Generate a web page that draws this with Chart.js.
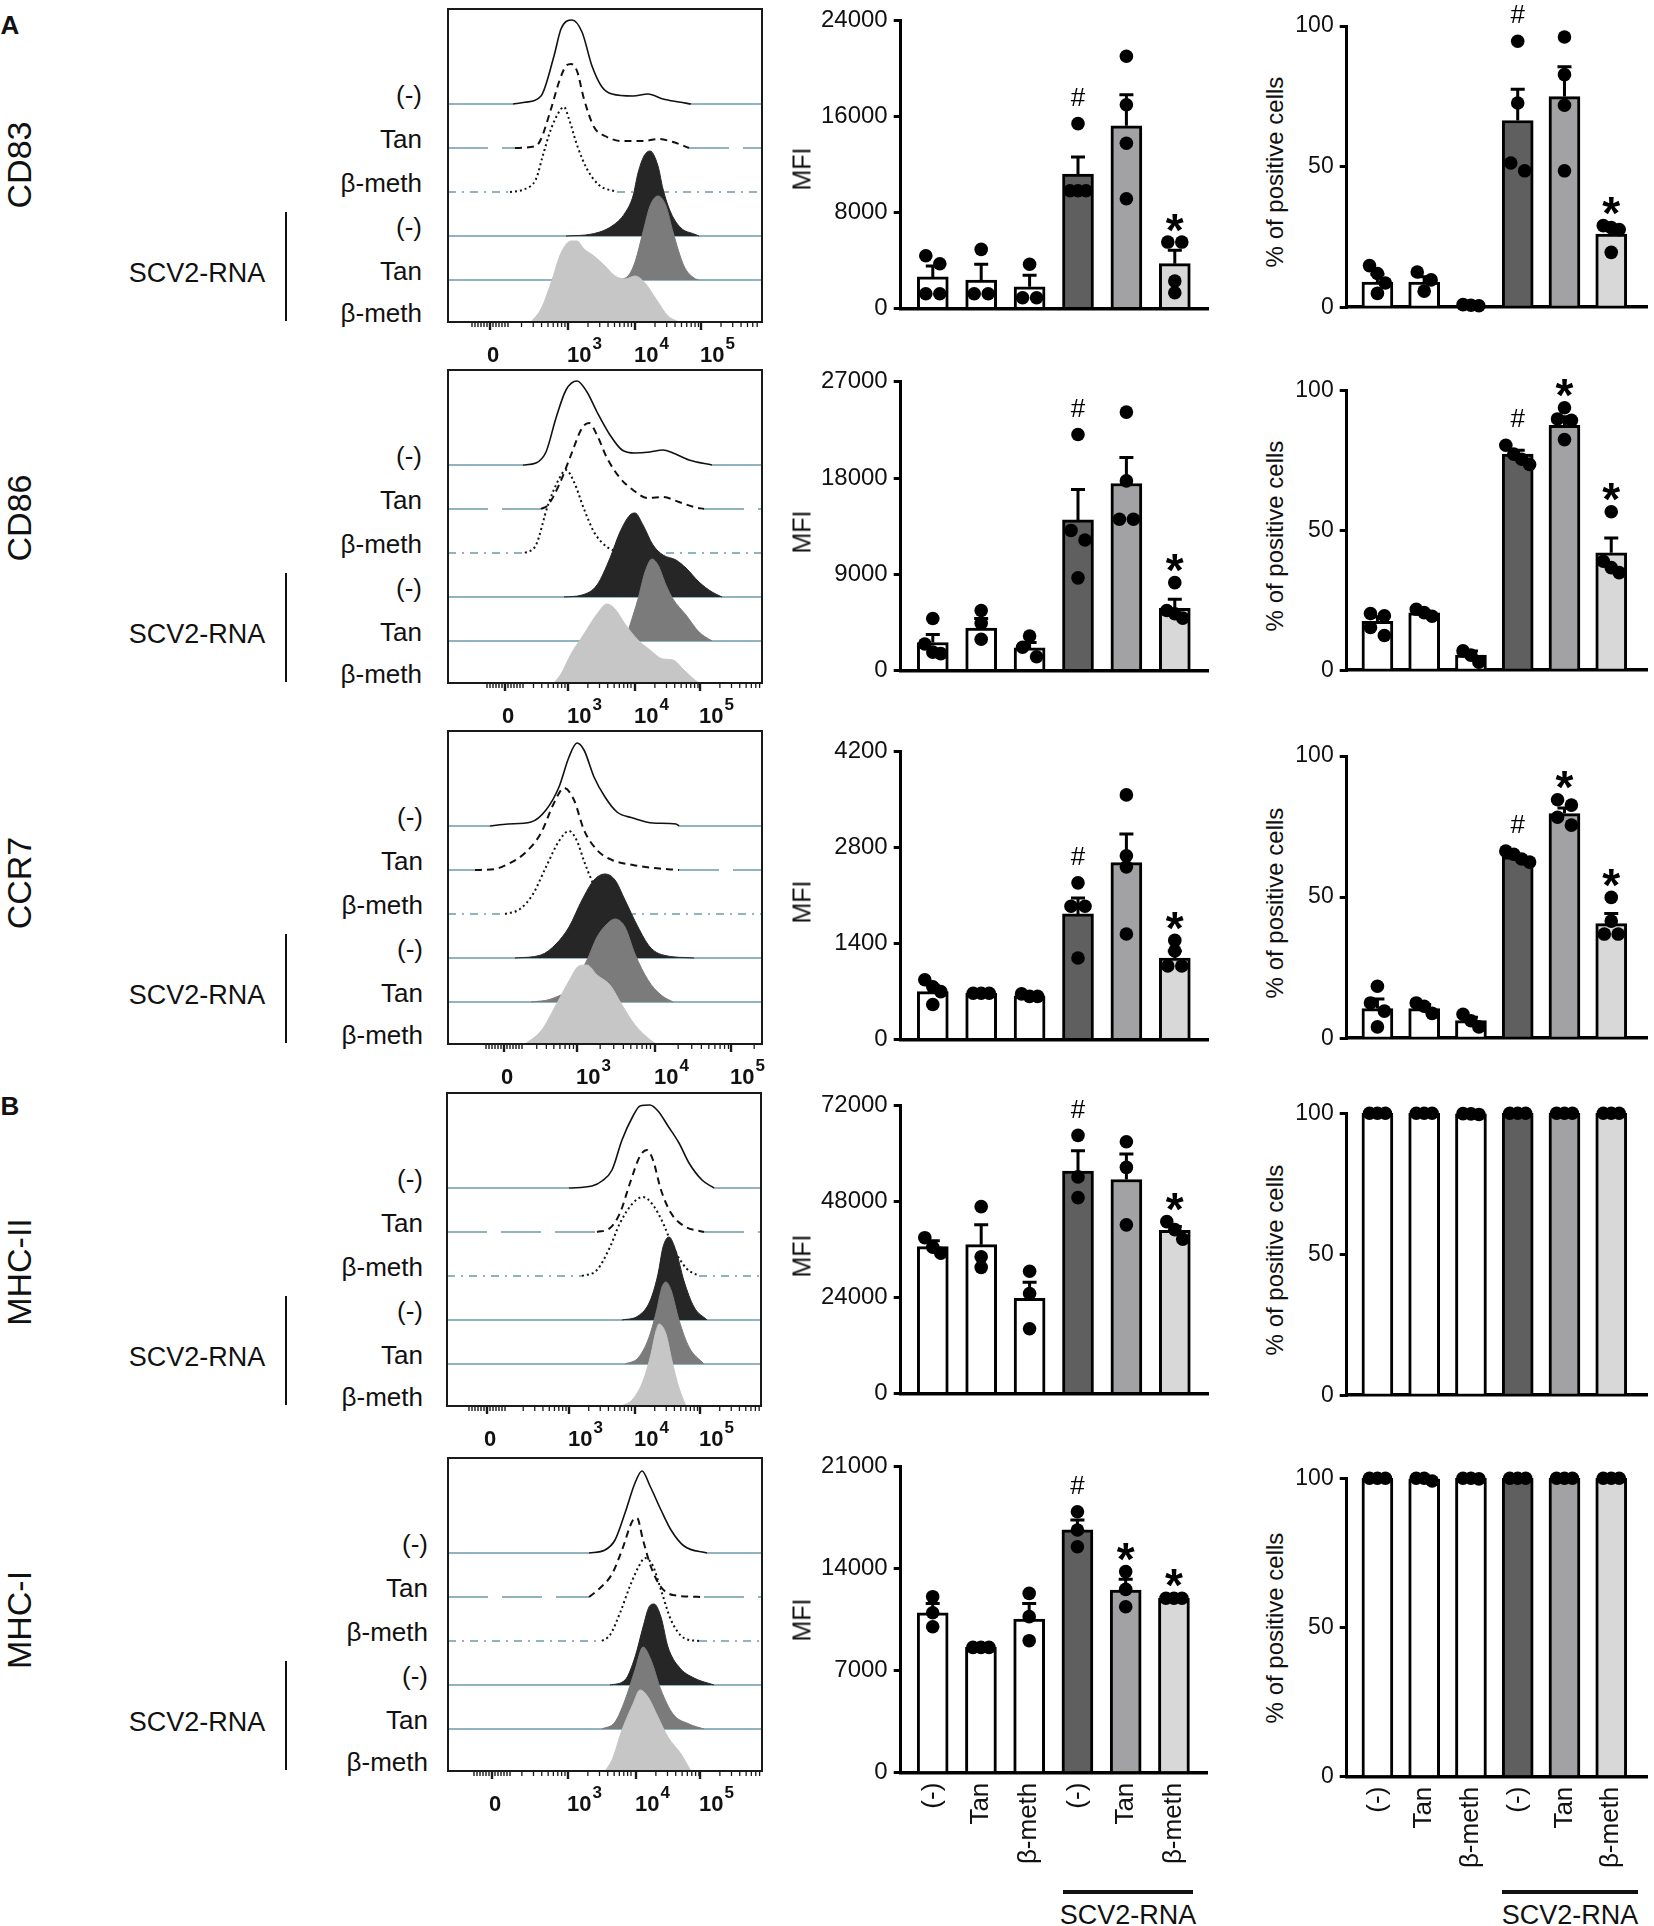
<!DOCTYPE html>
<html><head><meta charset="utf-8">
<script src="https://cdn.jsdelivr.net/npm/chart.js@4.4.1/dist/chart.umd.min.js"></script>
<style>
html,body{margin:0;padding:0;background:#fff;}
#fig{position:relative;width:1654px;height:1926px;overflow:hidden;font-family:'Liberation Sans',Arial,Helvetica,sans-serif;color:#111;}
.abs{position:absolute;white-space:nowrap;line-height:1;}
.ln{position:absolute;background:#111;}
canvas{position:absolute;}
</style></head><body><div id="fig"></div>
<script>
// ---------------- DATA ----------------
const categories = ['(-)','Tan','β-meth','(-)','Tan','β-meth'];
const groupLabel = 'SCV2-RNA';
const rowMarkers = ['CD83','CD86','CCR7','MHC-II','MHC-I'];
const traceLabels = ['(-)','Tan','β-meth','(-)','Tan','β-meth'];
const histTickLabels = ['0','10³','10⁴','10⁵'];

// histogram channel positions of 0, 10^3, 10^4, 10^5
const cd83Ticks = [42,120,187,253];
const cd86Ticks = [57,120,187,252];
const ccr7Ticks = [56,129,207,283];
const mhc2Ticks = [40,122,188,253];
const mhc1Ticks = [44,120,188,252];

// histogram traces: [channel, count]
const cd83Neg = [[65,0],[77,1.7],[93,8],[106,48],[113,75],[124,84],[134,72],[144,38],[154,17],[164,10],[185,8],[200,10],[215,5],[231,2],[243,0]];
const cd83Tan = [[67,0],[88,2],[93,9],[103,39],[111,66],[118,82],[123,84],[129,77],[136,49],[146,21],[157,12],[174,7],[195,7],[210,9],[225,6],[241,0]];
const cd83Beta = [[62,0],[77,3],[88,13],[95,37],[103,63],[113,83],[116,85],[121,73],[129,47],[139,23],[151,7],[169,0]];
const cd83RnaNeg = [[118,0],[144,2],[164,10],[177,23],[185,40],[190,63],[196,80],[202,85],[210,70],[215,47],[223,23],[233,8],[246,2],[251,0]];
const cd83RnaTan = [[169,0],[180,4],[187,18],[195,48],[202,74],[210,84],[218,74],[225,48],[236,14],[246,2],[251,0]];
const cd83RnaBeta = [[83,0],[93,13],[103,39],[113,69],[123,81],[129,81],[136,73],[146,66],[157,56],[167,46],[177,43],[187,46],[197,39],[208,23],[220,6],[231,0]];

const cd86Neg = [[75,0],[88,2],[98,13],[108,47],[118,75],[129,84],[139,73],[149,53],[162,30],[174,15],[187,12],[202,13],[215,15],[225,12],[241,5],[264,0]];
const cd86Tan = [[93,0],[100,4],[111,24],[123,54],[134,81],[141,86],[149,74],[159,51],[172,31],[185,19],[200,11],[215,12],[231,7],[246,2],[256,0]];
const cd86Beta = [[77,0],[88,8],[100,48],[111,74],[118,83],[126,71],[136,44],[146,21],[159,6],[174,0]];
const cd86RnaNeg = [[116,0],[134,2],[149,12],[162,39],[172,65],[182,82],[187,84],[195,72],[205,52],[215,42],[228,37],[238,29],[251,15],[264,5],[274,0]];
const cd86RnaTan = [[177,0],[182,16],[190,42],[197,69],[204,82],[210,76],[218,56],[225,42],[238,26],[251,9],[264,0]];
const cd86RnaBeta = [[106,0],[113,9],[123,29],[136,49],[149,69],[159,79],[167,74],[177,59],[190,43],[202,33],[215,24],[225,23],[236,13],[248,2],[251,0]];

const ccr7Neg = [[42,0],[60,2],[83,4],[98,16],[111,39],[121,69],[129,83],[136,76],[146,49],[157,29],[169,14],[185,8],[205,3],[228,2],[231,0]];
const ccr7Tan = [[27,0],[47,1],[62,7],[77,17],[93,37],[106,67],[116,82],[126,70],[136,40],[149,20],[164,10],[185,5],[205,2],[231,0]];
const ccr7Beta = [[57,0],[72,5],[85,20],[98,47],[111,73],[121,83],[129,73],[136,53],[144,33],[154,13],[169,2],[180,0]];
const ccr7RnaNeg = [[67,0],[93,3],[108,14],[121,31],[134,58],[146,78],[157,84],[167,78],[177,58],[190,31],[202,11],[215,3],[246,0]];
const ccr7RnaTan = [[83,0],[103,3],[123,15],[139,42],[149,65],[159,78],[167,83],[177,75],[187,48],[200,22],[213,7],[225,0]];
const ccr7RnaBeta = [[77,0],[93,13],[108,39],[121,63],[131,78],[139,79],[149,69],[162,59],[174,39],[187,19],[200,6],[208,0]];

const mhc2Neg = [[122,0],[145,2],[155,7],[165,18],[175,48],[186,72],[193,82],[203,83],[211,77],[221,62],[232,45],[242,25],[255,8],[267,0]];
const mhc2Tan = [[150,0],[163,4],[173,19],[183,49],[193,76],[200,82],[206,72],[214,42],[224,19],[237,6],[257,0]];
const mhc2Beta = [[135,0],[150,6],[163,29],[173,53],[186,73],[196,79],[206,71],[216,53],[226,29],[239,8],[252,0]];
const mhc2RnaNeg = [[175,0],[191,4],[203,19],[211,46],[216,73],[222,83],[229,69],[237,39],[247,13],[260,0]];
const mhc2RnaTan = [[178,0],[191,6],[201,24],[209,51],[215,77],[219,82],[224,74],[232,44],[242,17],[257,0]];
const mhc2RnaBeta = [[175,0],[186,7],[196,25],[204,52],[209,75],[212,82],[219,72],[225,45],[232,18],[239,0]];

const mhc1Neg = [[141,0],[157,3],[167,13],[177,40],[187,70],[194,82],[202,67],[213,43],[223,23],[236,7],[259,0]];
const mhc1Tan = [[141,0],[151,8],[164,23],[174,47],[185,77],[189,79],[195,57],[203,30],[213,10],[225,2],[256,0]];
const mhc1Beta = [[154,0],[162,6],[172,28],[182,55],[191,75],[197,83],[205,75],[213,51],[223,21],[236,3],[251,0]];
const mhc1RnaNeg = [[162,0],[177,5],[187,28],[195,58],[201,78],[206,81],[213,68],[220,38],[231,18],[246,7],[266,0]];
const mhc1RnaTan = [[154,0],[167,7],[177,29],[187,59],[195,82],[203,69],[213,39],[225,15],[241,5],[256,0]];
const mhc1RnaBeta = [[157,0],[164,11],[174,41],[185,67],[192,81],[200,74],[210,54],[220,34],[233,17],[243,0]];

// MFI / % bar data
const cd83MfiMax = 24000;
const cd83MfiMean = [2640,2370,1820,11200,15220,3740];
const cd83MfiSem = [900,1320,950,1420,2580,1110];
const cd83MfiPts = [[4400,3740,1240,1240],[4930,1240,1240],[3690,900,900],[15400,9810,9810,9810],[21020,16980,13770,9150],[5540,5540,2290,1320]];
const cd83MfiMarks = ['','','','#','','*'];
const cd83PctMean = [8.9,8.9,0.6,66.4,74.9,26.0];
const cd83PctSem = [2.8,1.9,0.3,11.1,10.6,2.5];
const cd83PctPts = [[14.8,12.0,8.6,4.9],[12.5,9.7,5.7],[0.9,0.7,0.5],[94.6,72.6,51.3,48.5],[96.1,82.7,71.8,48.5],[29,28.3,27.6,19.5]];
const cd83PctMarks = ['','','','#','','*'];

const cd86MfiMax = 27000;
const cd86MfiMean = [2630,3980,2120,14080,17490,5830];
const cd86MfiSem = [750,890,510,2840,2420,840];
const cd86MfiPts = [[4870,2480,1730,1590],[5620,4430,2930],[3230,2180,1290],[22070,13100,12200,8670],[24160,17730,14140,14140],[8220,5620,5320,4900]];
const cd86MfiMarks = ['','','','#','','*'];
const cd86PctMean = [17.5,20.5,5.4,77.3,87.6,42.0];
const cd86PctSem = [1.6,0.6,1.5,1.4,3.1,5.3];
const cd86PctPts = [[20.3,19.5,15.3,12.4],[21.8,20.6,19.3],[6.9,5.4,2.9],[80.5,77.3,75.5,73.6],[93.9,89.9,89.4,82.5],[56.7,39.0,36.7,34.9]];
const cd86PctMarks = ['','','','#','*','*'];

const ccr7MfiMax = 4200;
const ccr7MfiMean = [700,677,640,1834,2581,1190];
const ccr7MfiSem = [93,10,20,233,420,103];
const ccr7MfiPts = [[873,770,700,513],[677,677,677],[667,630,630],[2287,1946,1946,1190],[3570,2683,2520,1540],[1447,1293,1073,1073]];
const ccr7MfiMarks = ['','','','#','','*'];
const ccr7PctMean = [10.5,10.5,6.2,64.3,79.6,40.6];
const ccr7PctSem = [3.4,1.4,1.2,0.8,2.0,3.6];
const ccr7PctPts = [[18.4,12.5,9.6,4.0],[12.5,11.3,8.8],[8.5,6.2,4.0],[66.3,65.2,63.5,62.4],[84.5,82.6,78.3,75.5],[49.9,41.5,36.9,36.9]];
const ccr7PctMarks = ['','','','#','*','*'];

const mhc2MfiMax = 72000;
const mhc2MfiMean = [36680,37150,23760,55500,53420,40740];
const mhc2MfiSem = [1430,4950,4000,5100,6380,960];
const mhc2MfiPts = [[38900,36500,35000],[46640,34130,31500],[30540,24960,16190],[64420,54060,48880],[62830,56450,42100],[42900,40900,38500]];
const mhc2MfiMarks = ['','','','#','','*'];
const mhc2PctMean = [100,100,99.8,100,100,100];
const mhc2PctSem = [0,0,0,0,0,0];
const mhc2PctPts = [[100,100,100],[100,100,100],[99.8,99.6,99.9],[100,100,100],[100,100,100],[100,100,100]];
const mhc2PctMarks = ['','','','','',''];

const mhc1MfiMax = 21000;
const mhc1MfiMean = [10980,8600,10550,16660,12540,11970];
const mhc1MfiSem = [640,30,1070,680,730,100];
const mhc1MfiPts = [[12080,10980,10020],[8600,8600,8600],[12310,10710,9060],[17910,16660,15510],[13800,12580,11390],[11970,11970,11970]];
const mhc1MfiMarks = ['','','','#','*','*'];
const mhc1PctMean = [100,99.7,100,100,100,100];
const mhc1PctSem = [0,0,0,0,0,0];
const mhc1PctPts = [[100,100,100],[100,99.1,100],[100,99.8,100],[100,100,100],[100,100,100],[100,100,100]];
const mhc1PctMarks = ['','','','','',''];

const pctMax = 100;

// ---------------- LAYOUT / STYLE ----------------
Chart.defaults.font.family = "'Liberation Sans', Arial, Helvetica, sans-serif";
Chart.defaults.color = '#111';
const fig = document.getElementById('fig');
const FONT = "'Liberation Sans', Arial, Helvetica, sans-serif";

const HIST_W = 314, HIST_H = 313;
const histTops = [9, 370, 731, 1093, 1458];
const histLefts = [448, 448, 448, 447, 448];
const rowOffsets = [218, 174, 130, 86, 42, 0];
const labelRight = [422, 422, 423, 423, 428];
const markerY = [165, 518, 883, 1272, 1620];

const mfiBox = [[17.3,320.7],[381.7,682.7],[751.7,1051.7],[1105,1406],[1466.7,1772.7]];
const pctBox = [[26,318.3],[390.7,681.7],[756,1050],[1113.3,1406.7],[1478.3,1776.7]];
const barColors = ['#ffffff','#ffffff','#ffffff','#5f5f5f','#a2a2a5','#d8d8d8'];

function makeCanvas(left, top, w, h) {
  const c = document.createElement('canvas');
  c.width = w; c.height = h;
  c.style.left = left + 'px'; c.style.top = top + 'px';
  c.style.width = w + 'px'; c.style.height = h + 'px';
  fig.appendChild(c);
  return c;
}
function addText(txt, x, y, size, opts) {
  opts = opts || {};
  const d = document.createElement('div');
  d.className = 'abs';
  d.textContent = txt;
  d.style.left = x + 'px'; d.style.top = y + 'px'; d.style.fontSize = size + 'px';
  if (opts.bold) d.style.fontWeight = 'bold';
  let tf = opts.align === 'right' ? 'translate(-100%,-50%)' : 'translate(-50%,-50%)';
  if (opts.rotate) tf += ' rotate(-90deg)';
  d.style.transform = tf;
  fig.appendChild(d);
}
function addLine(x, y, w, h) {
  const d = document.createElement('div');
  d.className = 'ln';
  d.style.left = x + 'px'; d.style.top = y + 'px'; d.style.width = w + 'px'; d.style.height = h + 'px';
  fig.appendChild(d);
}

// ---------------- HISTOGRAMS ----------------
const traceStyles = [
  {line:'#111', width:1.6, dash:[], fill:null, base:[]},
  {line:'#111', width:2, dash:[7,5], fill:null, base:[40,14]},
  {line:'#111', width:2, dash:[2,3], fill:null, base:[8,6,2,6]},
  {line:'#262626', width:1, dash:[], fill:'#262626', base:[]},
  {line:'#7b7b7b', width:1, dash:[], fill:'#7b7b7b', base:[]},
  {line:'#c6c6c6', width:1, dash:[], fill:'#c6c6c6', base:[]}
];
const BASE_COLOR = '#6c9aa8';

const histPlugin = {
  id: 'histFrame',
  afterDraw(chart, args, opts) {
    const ctx = chart.ctx, a = chart.chartArea, xs = chart.scales.x;
    ctx.save();
    ctx.strokeStyle = '#1a1a1a'; ctx.lineWidth = 2;
    ctx.strokeRect(a.left, a.top, a.right - a.left, a.bottom - a.top);
    const t = opts.ticks;
    const tick = (v, len, w) => {
      const p = xs.getPixelForValue(v);
      if (p < a.left + 1 || p > a.right - 1) return;
      ctx.lineWidth = w; ctx.beginPath(); ctx.moveTo(p, a.bottom); ctx.lineTo(p, a.bottom + len); ctx.stroke();
    };
    const dec = (t[3] - t[1]) / 2;
    [t[1] - dec, t[1], t[2], t[3]].forEach(b => {
      for (let k = 2; k <= 9; k++) { const v = b + Math.log10(k) * dec; if (v > t[0] + 22) tick(v, 5, 1.3); }
    });
    for (let j = 1; j <= 6; j++) { tick(t[0] - 3 * j, 5, 1.4); tick(t[0] + 3 * j, 5, 1.4); }
    t.forEach(v => tick(v, 8, 2.4));
    const sup = {'³':'3','⁴':'4','⁵':'5'};
    ctx.fillStyle = '#111'; ctx.textBaseline = 'alphabetic';
    opts.labels.forEach((lab, i) => {
      const p = xs.getPixelForValue(t[i]);
      const base = lab.replace(/[³⁴⁵]/g, '');
      const exp = lab.length > base.length ? sup[lab[lab.length - 1]] : '';
      ctx.font = "bold 22px 'Liberation Sans Narrow', " + FONT;
      if (!exp) { ctx.textAlign = 'center'; ctx.fillText(base, p + 3, a.bottom + 40); }
      else {
        ctx.textAlign = 'left'; ctx.fillText(base, p - 1, a.bottom + 40);
        const w = ctx.measureText(base).width;
        ctx.font = "bold 17px 'Liberation Sans Narrow', " + FONT;
        ctx.fillText(exp, p - 1 + w + 1, a.bottom + 27);
      }
    });
    ctx.restore();
  }
};

function histDatasets(traces) {
  const ds = [];
  traces.forEach((tr, j) => {
    const off = rowOffsets[j], st = traceStyles[j];
    const x0 = tr[0][0], x1 = tr[tr.length - 1][0];
    const baseData = st.fill ? [{x:0,y:off},{x:HIST_W,y:off}]
      : [{x:0,y:off},{x:x0,y:off},{x:(x0 + x1) / 2,y:null},{x:x1,y:off},{x:HIST_W,y:off}];
    if (off > 0) ds.push({data: baseData, borderColor: BASE_COLOR, borderWidth: 1.5, borderDash: st.base,
      pointRadius: 0, tension: 0, fill: false, order: (6 - j) * 10 + 5});
    ds.push({data: tr.map(p => ({x: p[0], y: off + p[1]})), borderColor: st.line, borderWidth: st.width,
      borderDash: st.dash, backgroundColor: st.fill || 'rgba(0,0,0,0)', fill: st.fill ? {value: off} : false,
      pointRadius: 0, cubicInterpolationMode: 'monotone', order: (6 - j) * 10});
  });
  return ds;
}

const histPanels = [
  {ticks: cd83Ticks, traces: [cd83Neg, cd83Tan, cd83Beta, cd83RnaNeg, cd83RnaTan, cd83RnaBeta]},
  {ticks: cd86Ticks, traces: [cd86Neg, cd86Tan, cd86Beta, cd86RnaNeg, cd86RnaTan, cd86RnaBeta]},
  {ticks: ccr7Ticks, traces: [ccr7Neg, ccr7Tan, ccr7Beta, ccr7RnaNeg, ccr7RnaTan, ccr7RnaBeta]},
  {ticks: mhc2Ticks, traces: [mhc2Neg, mhc2Tan, mhc2Beta, mhc2RnaNeg, mhc2RnaTan, mhc2RnaBeta]},
  {ticks: mhc1Ticks, traces: [mhc1Neg, mhc1Tan, mhc1Beta, mhc1RnaNeg, mhc1RnaTan, mhc1RnaBeta]}
];

histPanels.forEach((p, r) => {
  const PX = 12, PT = 6, PB = 50;
  const c = makeCanvas(histLefts[r] - PX, histTops[r] - PT, HIST_W + 2 * PX, HIST_H + PT + PB);
  new Chart(c, {
    type: 'line',
    data: {datasets: histDatasets(p.traces)},
    options: {
      animation: false, responsive: false, devicePixelRatio: 1,
      layout: {padding: {left: PX, right: PX, top: PT, bottom: PB}},
      plugins: {legend: {display: false}, tooltip: {enabled: false}, histFrame: {ticks: p.ticks, labels: histTickLabels}},
      scales: {
        x: {type: 'linear', min: 0, max: HIST_W, display: false},
        y: {type: 'linear', min: 0, max: HIST_H, display: false}
      }
    },
    plugins: [histPlugin]
  });
  const top = histTops[r], bottom = top + HIST_H;
  traceLabels.forEach((t, j) => addText(t, labelRight[r], bottom - rowOffsets[j] - 9, 26, {align: 'right'}));
  addText(groupLabel, 197, top + 264, 27);
  addLine(285, top + 203, 2, 109);
  addText(rowMarkers[r], 19, markerY[r], 34, {rotate: true});
});
addText('A', 10, 25, 26, {bold: true});
addText('B', 10, 1106, 26, {bold: true});

// ---------------- BAR CHARTS ----------------
const barPlugin = {
  id: 'barExtras',
  afterDatasetDraw(chart, args, opts) {
    if (args.index !== 0) return;
    const ctx = chart.ctx, xs = chart.scales.x, ys = chart.scales.y;
    ctx.save(); ctx.strokeStyle = '#000'; ctx.lineWidth = 3;
    opts.means.forEach((m, i) => {
      const s = opts.sems[i]; if (!s) return;
      const x = xs.getPixelForValue(i), y0 = ys.getPixelForValue(m), y1 = ys.getPixelForValue(m + s);
      ctx.beginPath(); ctx.moveTo(x, y0); ctx.lineTo(x, y1); ctx.moveTo(x - 7, y1); ctx.lineTo(x + 7, y1); ctx.stroke();
    });
    ctx.restore();
  },
  afterDatasetsDraw(chart, args, opts) {
    const ctx = chart.ctx, xs = chart.scales.x, ys = chart.scales.y;
    ctx.save(); ctx.fillStyle = '#000'; ctx.textAlign = 'center'; ctx.textBaseline = 'middle';
    opts.marks.forEach((mk, i) => {
      if (!mk) return;
      const topVal = Math.max(opts.means[i] + opts.sems[i], ...opts.pts[i]);
      const x = xs.getPixelForValue(i), y = ys.getPixelForValue(topVal);
      if (mk === '#') { ctx.font = '26px ' + FONT; ctx.fillText('#', x, y - 25); }
      else { ctx.font = 'bold 46px ' + FONT; ctx.fillText('*', x, y - 9); }
    });
    ctx.restore();
  }
};

function jitter(chart, pts) {
  const ys = chart.scales.y, xs = chart.scales.x;
  const pxPerUnit = xs.getPixelForValue(1) - xs.getPixelForValue(0);
  const out = [];
  pts.forEach((grp, i) => {
    const sorted = grp.map(v => ({v, p: ys.getPixelForValue(v)})).sort((a, b) => a.p - b.p);
    const clusters = []; let cur = [];
    sorted.forEach(o => {
      if (cur.length && o.p - cur[cur.length - 1].p > 10) { clusters.push(cur); cur = []; }
      cur.push(o);
    });
    if (cur.length) clusters.push(cur);
    clusters.forEach(c => {
      const k = c.length;
      const offs = k === 1 ? [0] : k === 2 ? [-7, 7] : k === 3 ? [-8, 0, 8] : [-12, -4, 4, 12];
      c.forEach((o, j) => out.push({x: i + offs[j] / pxPerUnit, y: o.v}));
    });
  });
  chart.data.datasets[1].data = out;
  chart.update('none');
}

function makeBarChart(o) {
  const canvasTop = Math.max(0, Math.floor(o.top - 45));
  const padTop = o.top - canvasTop;
  const xAxisH = o.showX ? 112 : 2;
  const H = Math.ceil(padTop + (o.bottom - o.top) + xAxisH + 6);
  const padBottom = H - padTop - (o.bottom - o.top) - xAxisH;
  const W = o.canvasRight - o.canvasLeft;
  const c = makeCanvas(o.canvasLeft, canvasTop, W, H);
  const yW = o.left - o.canvasLeft;
  const chart = new Chart(c, {
    type: 'bar',
    data: {datasets: [
      {type: 'bar', data: o.mean.map((m, i) => ({x: i, y: m})), backgroundColor: barColors, borderColor: '#000',
       borderWidth: 3, barThickness: 31, order: 2, clip: false},
      {type: 'scatter', data: [], pointRadius: 6.8, pointHoverRadius: 6.8, backgroundColor: '#000', borderWidth: 0, order: 1, clip: false}
    ]},
    options: {
      animation: false, responsive: false, devicePixelRatio: 1,
      layout: {padding: {left: 0, right: o.canvasRight - o.right, top: padTop, bottom: padBottom}},
      plugins: {legend: {display: false}, tooltip: {enabled: false},
        barExtras: {means: o.mean, sems: o.sem, pts: o.pts, marks: o.marks}},
      scales: {
        x: {type: 'linear', min: o.xMin, max: o.xMax, offset: false,
            grid: {display: true, drawOnChartArea: false, drawTicks: false},
            border: {display: true, color: '#000', width: 3.5},
            ticks: {display: o.showX, autoSkip: false, maxRotation: 90, minRotation: 90, padding: 10,
                    font: {size: 26}, color: '#111', callback: v => categories[Math.round(v)]},
            afterBuildTicks: s => { s.ticks = categories.map((c, i) => ({value: i})); },
            afterFit: s => { s.height = xAxisH; }},
        y: {type: 'linear', min: 0, max: o.yMax,
            grid: {display: true, drawOnChartArea: false, drawTicks: true, tickLength: 7, tickWidth: 3, lineWidth: 3, tickColor: '#000'},
            border: {display: true, color: '#000', width: 3},
            ticks: {stepSize: o.step, padding: 6, font: {size: o.fontSize}, color: '#111', callback: v => String(Math.round(v))},
            afterFit: s => { s.width = yW; }}
      }
    },
    plugins: [barPlugin]
  });
  jitter(chart, o.pts);
}

const mfiSets = [
  [cd83MfiMean, cd83MfiSem, cd83MfiPts, cd83MfiMarks, cd83MfiMax],
  [cd86MfiMean, cd86MfiSem, cd86MfiPts, cd86MfiMarks, cd86MfiMax],
  [ccr7MfiMean, ccr7MfiSem, ccr7MfiPts, ccr7MfiMarks, ccr7MfiMax],
  [mhc2MfiMean, mhc2MfiSem, mhc2MfiPts, mhc2MfiMarks, mhc2MfiMax],
  [mhc1MfiMean, mhc1MfiSem, mhc1MfiPts, mhc1MfiMarks, mhc1MfiMax]
];
const pctSets = [
  [cd83PctMean, cd83PctSem, cd83PctPts, cd83PctMarks],
  [cd86PctMean, cd86PctSem, cd86PctPts, cd86PctMarks],
  [ccr7PctMean, ccr7PctSem, ccr7PctPts, ccr7PctMarks],
  [mhc2PctMean, mhc2PctSem, mhc2PctPts, mhc2PctMarks],
  [mhc1PctMean, mhc1PctSem, mhc1PctPts, mhc1PctMarks]
];

for (let r = 0; r < 5; r++) {
  const m = mfiSets[r], p = pctSets[r];
  const last = r === 4;
  makeBarChart({mean: m[0], sem: m[1], pts: m[2], marks: m[3], yMax: m[4], step: m[4] / 3, fontSize: 24,
    left: 900.7, right: 1208, top: mfiBox[r][0], bottom: mfiBox[r][1], canvasLeft: 812, canvasRight: 1216,
    xMin: -0.663, xMax: 5.686, showX: last});
  makeBarChart({mean: p[0], sem: p[1], pts: p[2], marks: p[3], yMax: pctMax, step: 50, fontSize: 23,
    left: 1346.7, right: 1650, top: pctBox[r][0], bottom: pctBox[r][1], canvasLeft: 1288, canvasRight: 1654,
    xMin: -0.657, xMax: 5.769, showX: last});
  addText('MFI', 802, (mfiBox[r][0] + mfiBox[r][1]) / 2, 25, {rotate: true});
  addText('% of positive cells', 1275, (pctBox[r][0] + pctBox[r][1]) / 2, 24, {rotate: true});
}
addLine(1063, 1890, 130, 3.5);
addLine(1502, 1890, 136, 3.5);
addText(groupLabel, 1128, 1915, 27);
addText(groupLabel, 1570, 1915, 27);
</script></body></html>
